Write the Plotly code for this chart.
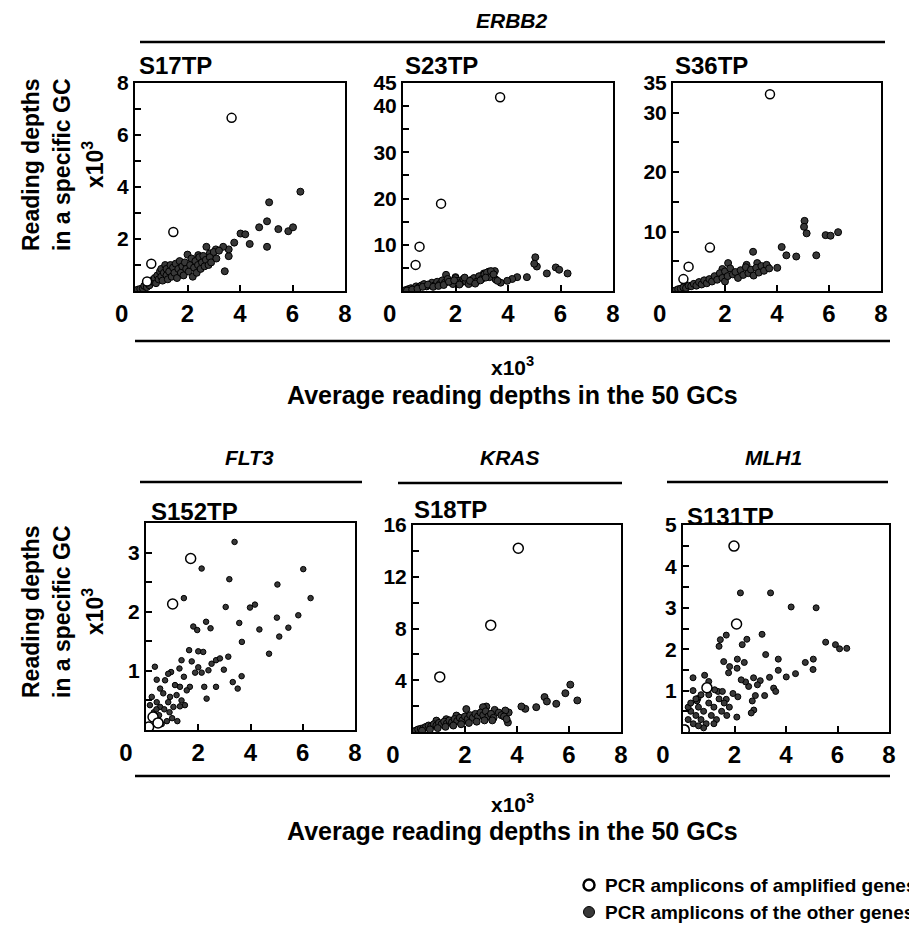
import plotly.graph_objects as go

# page is 917x928; the html body adds an 8px margin, so the figure is 8px smaller
PAGE_OFF = 8
W, H = 917 - PAGE_OFF, 928 - PAGE_OFF

# ---------------- data (x10^3 reading depths) ----------------
s17_amp_x = [3.68, 1.46, 0.62, 0.46]
s17_amp_y = [6.66, 2.27, 1.05, 0.37]
s17_oth_x = [3.78, 3.57, 3.57, 3.42, 3.36, 4.02, 4.20, 4.37, 4.73, 5.03, 5.11, 5.03, 5.46, 5.84, 6.02, 6.30,
             2.72, 2.85, 3.08, 2.41,
             0.10, 0.20, 0.30, 0.35, 0.45, 0.50, 0.55, 0.60, 0.70, 0.75, 0.80, 0.85, 0.90, 0.95, 1.00, 1.00,
             1.05, 1.10, 1.15, 1.20, 1.20, 1.25, 1.30, 1.35, 1.40, 1.45, 1.50, 1.55, 1.60, 1.65, 1.70, 1.75,
             1.80, 1.85, 1.90, 1.95, 2.00, 2.05, 2.10, 2.15, 2.20, 2.25, 2.30, 2.35, 2.40, 2.45, 2.50, 2.55,
             2.60, 2.65, 2.70, 2.80, 2.85, 2.90, 3.00, 3.10, 3.20]
s17_oth_y = [1.86, 1.34, 1.60, 0.76, 1.70, 2.21, 2.18, 1.81, 2.45, 2.68, 3.41, 1.70, 2.38, 2.30, 2.45, 3.82,
             1.70, 1.45, 1.60, 1.38,
             0.05, 0.08, 0.10, 0.20, 0.15, 0.30, 0.22, 0.40, 0.35, 0.50, 0.30, 0.60, 0.45, 0.75, 0.55, 0.85,
             0.40, 0.70, 1.00, 0.60, 0.85, 0.45, 0.75, 1.00, 0.55, 0.90, 0.70, 1.05, 0.50, 0.85, 1.15, 0.70,
             0.95, 0.60, 1.10, 0.85, 1.40, 0.75, 1.00, 1.25, 0.55, 0.90, 1.15, 0.70, 1.00, 1.30, 0.85, 1.10,
             1.35, 0.95, 1.20, 1.00, 1.30, 1.10, 1.50, 1.25, 1.55]

s23_amp_x = [3.70, 1.45, 0.63, 0.48]
s23_amp_y = [41.9, 18.9, 9.6, 5.65]
s23_oth_x = [5.04, 5.10, 5.00, 5.48, 5.82, 5.95, 6.27, 4.72, 4.35, 4.16, 3.97, 3.72, 3.53, 3.40, 3.27, 3.08,
             2.90, 1.64, 2.00,
             0.1, 0.2, 0.3, 0.4, 0.5, 0.6, 0.7, 0.8, 0.9, 1.0, 1.1, 1.2, 1.3, 1.4, 1.5, 1.6, 1.7, 1.8, 1.9,
             2.0, 2.1, 2.2, 2.3, 2.4, 2.5, 2.6, 2.7, 2.8, 2.9, 3.0, 3.1, 3.2, 3.3, 3.5,
             0.15, 0.35, 0.55, 0.75, 0.95, 1.15, 1.35, 1.55, 1.75, 1.95, 2.15, 2.35, 2.55, 2.75, 2.95, 3.15,
             3.35, 3.45, 3.6]
s23_oth_y = [7.3, 5.3, 5.9, 3.8, 5.1, 4.6, 3.8, 3.0, 3.0, 2.6, 2.2, 1.8, 2.5, 3.8, 4.2, 3.8,
             3.1, 3.5, 3.0,
             0.2, 0.4, 0.6, 0.5, 1.0, 0.8, 1.2, 1.5, 1.0, 1.3, 1.8, 1.2, 2.0, 1.5, 2.3, 1.8, 2.6, 2.0, 1.5,
             2.8, 2.2, 1.8, 2.6, 2.0, 1.5, 2.4, 2.8, 2.0, 3.2, 2.6, 3.6, 4.0, 3.0, 4.3,
             0.1, 0.3, 0.5, 0.9, 1.4, 0.9, 1.1, 1.3, 2.0, 2.3, 1.4, 2.9, 2.2, 1.6, 2.3, 2.9,
             4.3, 3.6, 2.2]

s36_amp_x = [3.73, 1.42, 0.60, 0.40]
s36_amp_y = [33.1, 7.3, 4.1, 2.0]
s36_oth_x = [5.06, 5.04, 5.14, 4.18, 4.36, 4.74, 5.51, 5.87, 6.06, 6.35, 3.08, 4.01, 3.63, 3.24, 2.83, 2.12, 1.90,
             0.1, 0.2, 0.3, 0.4, 0.5, 0.6, 0.7, 0.8, 0.9, 1.0, 1.1, 1.2, 1.3, 1.4, 1.5, 1.6, 1.7, 1.8, 1.9,
             2.0, 2.0, 2.1, 2.2, 2.3, 2.4, 2.5, 2.6, 2.7, 2.8, 2.9, 3.0, 3.1, 3.2, 3.3, 3.4, 3.5, 3.6, 3.7]
s36_oth_y = [11.8, 10.8, 9.7, 7.4, 6.0, 5.8, 6.0, 9.4, 9.3, 9.9, 6.6, 3.9, 4.1, 4.7, 4.4, 4.7, 3.7,
             0.1, 0.3, 0.4, 0.6, 0.5, 0.9, 0.8, 1.2, 0.9, 1.5, 1.1, 1.8, 1.3, 2.0, 1.6, 2.5, 1.9, 3.0, 2.2,
             1.6, 3.3, 2.5, 3.8, 2.8, 3.2, 2.2, 3.5, 2.7, 4.0, 3.0, 3.6, 2.6, 3.9, 3.1, 4.2, 3.4, 4.4, 3.8]

s152_amp_x = [1.71, 1.02, 0.27, 0.46, 0.10]
s152_amp_y = [2.90, 2.13, 0.22, 0.12, 0.05]
s152_oth_x = [3.39, 2.13, 3.19, 6.02, 1.45, 6.30, 5.03, 3.05, 3.98, 4.17, 5.01, 5.83, 5.45, 5.10, 4.34,
              3.57, 3.67, 4.71, 1.81, 1.96, 2.30, 2.47, 1.65, 2.00, 2.19, 1.36, 1.75, 1.28, 2.00, 1.88,
              0.96, 0.85, 0.34, 0.41, 0.73, 1.45, 2.13, 2.39, 2.51, 2.68, 2.83, 3.15, 2.98, 3.32, 3.66,
              3.51, 2.68, 2.32, 2.23, 1.68, 1.56, 1.30, 1.11, 0.54, 0.66, 0.92, 1.17, 0.22, 0.41, 0.85,
              1.36, 1.49, 0.15, 0.54, 1.05, 0.30, 0.50, 0.70, 0.90, 1.00, 1.20, 0.80, 0.60, 1.30, 0.40]
s152_oth_y = [3.18, 2.73, 2.55, 2.72, 2.23, 2.23, 2.46, 2.08, 2.07, 2.12, 1.90, 1.94, 1.73, 1.58, 1.70,
              1.81, 1.49, 1.29, 1.75, 1.69, 1.83, 1.72, 1.35, 1.33, 1.32, 1.18, 1.16, 1.04, 1.06, 0.97,
              0.98, 0.95, 1.07, 0.85, 0.84, 0.90, 0.97, 1.01, 1.12, 1.18, 1.21, 1.24, 1.02, 0.81, 0.91,
              0.70, 0.73, 0.53, 0.73, 0.73, 0.67, 0.73, 0.76, 0.70, 0.62, 0.56, 0.59, 0.56, 0.47, 0.47,
              0.50, 0.42, 0.42, 0.39, 0.39, 0.30, 0.25, 0.35, 0.30, 0.20, 0.15, 0.15, 0.10, 0.40, 0.35]

s18_amp_x = [1.03, 2.99, 4.05]
s18_amp_y = [4.26, 8.26, 14.2]
s18_oth_x = [6.05, 5.86, 6.32, 5.51, 5.06, 5.15, 4.74, 4.32, 4.17, 3.68, 3.55, 3.65, 3.14, 2.82, 2.69,
             2.05, 1.67, 1.28, 0.90,
             0.1, 0.2, 0.3, 0.4, 0.5, 0.6, 0.7, 0.8, 0.9, 1.0, 1.1, 1.2, 1.3, 1.4, 1.5, 1.6, 1.7, 1.8,
             1.9, 2.0, 2.1, 2.2, 2.3, 2.4, 2.5, 2.6, 2.7, 2.8, 2.9, 3.0, 3.1, 3.3, 3.4, 3.5, 3.6,
             0.35, 0.65, 0.95, 1.25, 1.55, 1.85, 2.15, 2.45, 2.75, 3.05]
s18_oth_y = [3.66, 3.00, 2.44, 2.18, 2.70, 2.36, 1.92, 1.79, 1.97, 1.51, 1.66, 0.73, 1.71, 1.97, 1.92,
             1.77, 1.27, 0.99, 0.88,
             0.1, 0.2, 0.25, 0.3, 0.4, 0.5, 0.45, 0.6, 0.5, 0.7, 0.6, 0.8, 0.65, 0.9, 0.75, 1.0, 0.85, 1.1,
             0.9, 1.2, 1.0, 1.3, 1.1, 1.4, 1.2, 1.5, 1.3, 1.6, 1.2, 1.4, 1.1, 1.5, 1.3, 1.2, 1.0,
             0.1, 0.2, 0.3, 0.4, 0.5, 0.6, 0.7, 0.8, 0.9, 0.9]

s131_amp_x = [1.98, 2.08, 0.93, 0.05]
s131_amp_y = [4.49, 2.61, 1.07, 0.05]
s131_oth_x = [2.23, 3.40, 4.20, 5.17, 5.54, 5.92, 6.08, 6.36, 3.07, 2.48, 2.30, 1.68, 1.45, 1.40, 3.21,
              3.70, 2.11, 2.38, 1.58, 4.75, 5.06, 5.05, 3.70, 4.37, 4.01, 3.36, 2.74, 3.00, 2.89, 2.55,
              2.43, 2.26, 2.10, 1.81, 1.77, 0.39, 0.84, 1.00, 3.52, 3.60, 3.17, 2.81, 2.69, 1.36, 1.53,
              1.23, 2.13, 1.94, 1.68, 0.39, 0.58, 2.09, 2.75, 2.65, 0.54,
              0.1, 0.2, 0.3, 0.2, 0.4, 0.5, 0.6, 0.7, 0.8, 0.9, 1.0, 1.1, 1.2, 1.3, 1.4, 1.5, 1.6, 1.7,
              1.8, 0.5, 0.7, 1.0, 0.3, 1.2, 0.8, 0.6]
s131_oth_y = [3.36, 3.36, 3.02, 3.00, 2.17, 2.11, 2.01, 2.02, 2.36, 2.24, 2.11, 2.34, 2.23, 2.07, 1.87,
              1.76, 1.76, 1.68, 1.70, 1.68, 1.76, 1.51, 1.49, 1.41, 1.33, 1.32, 1.31, 1.24, 1.14, 1.10,
              1.21, 1.26, 1.54, 1.58, 1.43, 1.31, 1.37, 1.22, 1.06, 0.98, 0.88, 0.88, 0.75, 0.98, 0.98,
              1.02, 0.85, 0.93, 0.79, 1.00, 0.81, 0.36, 0.53, 0.46, 0.75,
              0.1, 0.3, 0.5, 0.6, 0.2, 0.4, 0.6, 0.3, 0.5, 0.2, 0.7, 0.4, 0.6, 0.3, 0.8, 0.5, 0.7, 0.4,
              0.6, 0.8, 0.9, 0.9, 0.7, 0.2, 0.1, 0.15]

sample_names = ["S17TP", "S23TP", "S36TP", "S152TP", "S18TP", "S131TP"]
gene_names = ["ERBB2", "FLT3", "KRAS", "MLH1"]
x_tick_vals = [0, 2, 4, 6, 8]
y_ranges = [8, 45, 35, 3.5, 16, 5]
y_tick_vals = [
    [1, 2, 3, 4, 5, 6, 7, 8],
    [5, 10, 15, 20, 25, 30, 35, 40, 45],
    [5, 10, 15, 20, 25, 30, 35],
    [0.5, 1, 1.5, 2, 2.5, 3],
    [2, 4, 6, 8, 10, 12, 14, 16],
    [0.5, 1, 1.5, 2, 2.5, 3, 3.5, 4, 4.5, 5],
]
y_tick_text = [
    ["", "2", "", "4", "", "6", "", "8"],
    ["", "10", "", "20", "", "30", "", "40", "45"],
    ["", "10", "", "20", "", "30", "35"],
    ["", "1", "", "2", "", "3"],
    ["", "4", "", "8", "", "12", "", "16"],
    ["", "1", "", "2", "", "3", "", "4", "", "5"],
]
legend_labels = ["PCR amplicons of amplified genes", "PCR amplicons of the other genes"]

amp_x = [s17_amp_x, s23_amp_x, s36_amp_x, s152_amp_x, s18_amp_x, s131_amp_x]
amp_y = [s17_amp_y, s23_amp_y, s36_amp_y, s152_amp_y, s18_amp_y, s131_amp_y]
oth_x = [s17_oth_x, s23_oth_x, s36_oth_x, s152_oth_x, s18_oth_x, s131_oth_x]
oth_y = [s17_oth_y, s23_oth_y, s36_oth_y, s152_oth_y, s18_oth_y, s131_oth_y]
for a, b in zip(amp_x + oth_x, amp_y + oth_y):
    assert len(a) == len(b)

# ---------------- layout geometry (page pixels) ----------------
# (left, right, top, bottom)
boxes = [(135, 345, 83, 291), (403, 613, 83, 291), (673, 881, 83, 291),
         (146, 355, 523, 730), (413, 621, 525, 732), (683, 889, 525, 732)]
dot_sizes = [7, 7, 7, 5.5, 7, 6]
open_sizes = [9, 9, 9, 10, 10, 10]
DOT_COLOR = "#383838"

FONT = "Liberation Sans, Arial, sans-serif"
NB = "\u00a0"


def px(x):
    return (x - PAGE_OFF) / W


def py(y):
    return 1 - (y - PAGE_OFF) / H


fig = go.Figure()
layout = dict(width=W, height=H, margin=dict(l=0, r=0, t=0, b=0, autoexpand=False),
              paper_bgcolor="white", plot_bgcolor="white", showlegend=False,
              font=dict(family=FONT, color="black"))

for i in range(6):
    n = "" if i == 0 else str(i + 1)
    l, r, t, b = boxes[i]
    zero_lbl = "0" + NB * (4 if i < 3 else 6)
    layout["xaxis" + n] = dict(
        domain=[px(l), px(r)], range=[0, 8], anchor="y" + n,
        tickvals=x_tick_vals, ticktext=[zero_lbl, "2", "4", "6", "8"],
        ticks="inside", ticklen=6, tickwidth=2, tickcolor="black",
        showline=True, mirror=True, linewidth=2, linecolor="black",
        showgrid=False, zeroline=False,
        tickfont=dict(family=FONT, size=24, color="black", weight="bold"),
    )
    layout["yaxis" + n] = dict(
        domain=[py(b), py(t)], range=[0, y_ranges[i]], anchor="x" + n,
        tickvals=y_tick_vals[i], ticktext=y_tick_text[i],
        ticks="inside", ticklen=6, tickwidth=2, tickcolor="black",
        showline=True, mirror=True, linewidth=2, linecolor="black",
        showgrid=False, zeroline=False,
        tickfont=dict(family=FONT, size=21, color="black", weight="bold"),
    )
    fig.add_trace(go.Scatter(
        x=oth_x[i], y=oth_y[i], mode="markers", xaxis="x" + n, yaxis="y" + n,
        marker=dict(size=dot_sizes[i], color=DOT_COLOR, line=dict(width=1, color="black")),
        showlegend=False, hoverinfo="skip"))
    fig.add_trace(go.Scatter(
        x=amp_x[i], y=amp_y[i], mode="markers", xaxis="x" + n, yaxis="y" + n,
        marker=dict(size=open_sizes[i], color="white", line=dict(width=1.5, color="black")),
        showlegend=False, hoverinfo="skip"))

annotations = []
shapes = []

# manual legend (symbols + texts)
for k, (ly, fill, lw) in enumerate([(885, "white", 2.5), (912, DOT_COLOR, 1)]):
    shapes.append(dict(type="circle", xref="paper", yref="paper", xsizemode="pixel", ysizemode="pixel",
                       xanchor=px(589), yanchor=py(ly), x0=-5.5, x1=5.5, y0=-5.5, y1=5.5,
                       fillcolor=fill, line=dict(color="black", width=lw)))
    annotations.append(dict(x=px(603), y=py(ly), xref="paper", yref="paper", text=legend_labels[k],
                            showarrow=False, xanchor="left", yanchor="middle",
                            font=dict(family=FONT, size=19, color="black", weight="bold")))

# panel (sample) labels
label_pos = [(137, 66), (403, 66), (673, 66), (149, 512), (412, 510), (685, 516)]
for i, (lx, ly) in enumerate(label_pos):
    annotations.append(dict(x=px(lx), y=py(ly), xref="paper", yref="paper", text=sample_names[i],
                            showarrow=False, xanchor="left", yanchor="middle",
                            font=dict(family=FONT, size=24, color="black", weight="bold")))

# gene titles with lines
gene_pos = [(512, 21, 140, 885, 42), (250, 458, 140, 362, 482), (510, 458, 398, 622, 483),
            (773, 458, 667, 888, 482)]
for g, (gx, gy, x0, x1, ly) in zip(gene_names, gene_pos):
    annotations.append(dict(x=px(gx), y=py(gy), xref="paper", yref="paper", text="<i>" + g + "</i>",
                            showarrow=False, xanchor="center", yanchor="middle",
                            font=dict(family=FONT, size=21, color="black", weight="bold")))
    shapes.append(dict(type="line", xref="paper", yref="paper", x0=px(x0), x1=px(x1), y0=py(ly), y1=py(ly),
                       line=dict(color="black", width=2.5)))

# x-axis titles with lines above
for (ly, ty1, ty2) in [(341, 366, 395), (776, 803, 831)]:
    shapes.append(dict(type="line", xref="paper", yref="paper", x0=px(135), x1=px(890), y0=py(ly), y1=py(ly),
                       line=dict(color="black", width=2.5)))
    annotations.append(dict(x=px(512), y=py(ty1), xref="paper", yref="paper", text="x10<sup>3</sup>",
                            showarrow=False, xanchor="center", yanchor="middle",
                            font=dict(family=FONT, size=21, color="black", weight="bold")))
    annotations.append(dict(x=px(512), y=py(ty2), xref="paper", yref="paper",
                            text="Average reading depths in the 50 GCs",
                            showarrow=False, xanchor="center", yanchor="middle",
                            font=dict(family=FONT, size=25, color="black", weight="bold")))

# y-axis titles (rotated)
for cy in [165, 612]:
    for cx, txt in [(31, "Reading depths"), (62, "in a specific GC"), (93, "x10<sup>3</sup>")]:
        annotations.append(dict(x=px(cx), y=py(cy), xref="paper", yref="paper", text=txt,
                                textangle=-90, showarrow=False, xanchor="center", yanchor="middle",
                                font=dict(family=FONT, size=23, color="black", weight="bold")))

layout["annotations"] = annotations
layout["shapes"] = shapes
fig.update_layout(**layout)
fig.write_html("out.html")
